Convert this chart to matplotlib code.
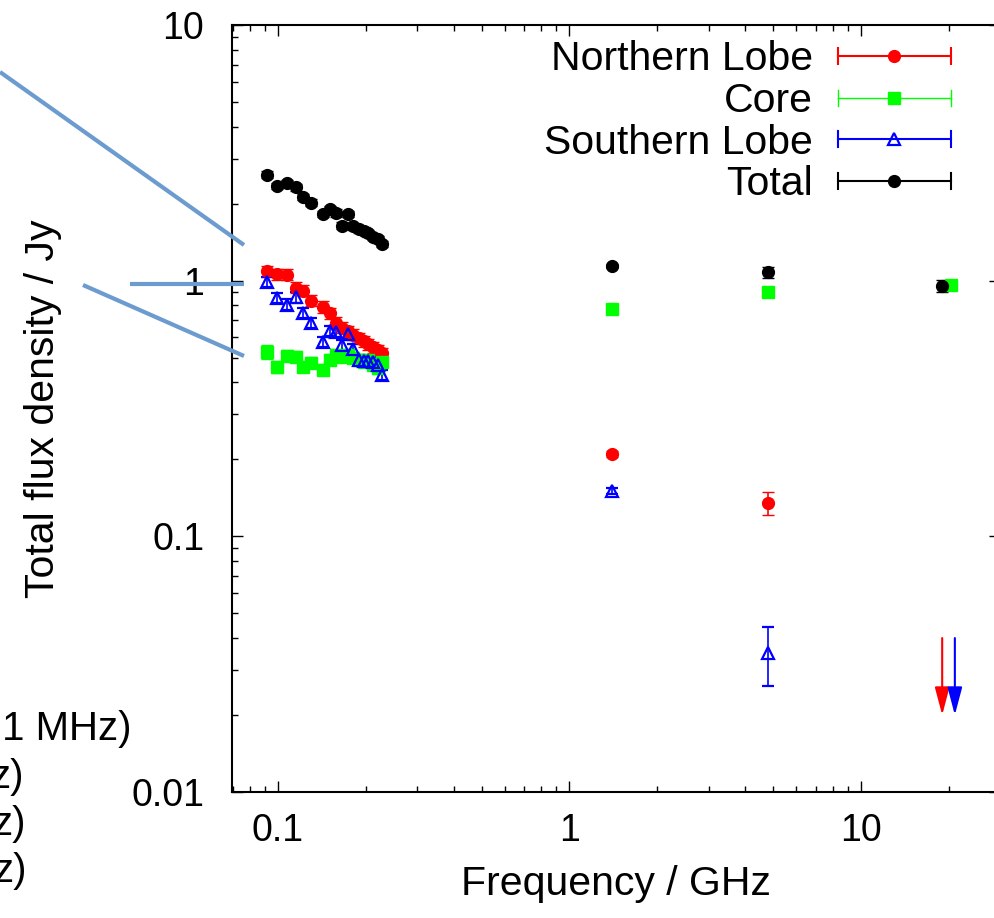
import numpy as np
import matplotlib.pyplot as plt
from matplotlib.lines import Line2D
from matplotlib.legend_handler import HandlerLine2D
from matplotlib.ticker import LogLocator, NullFormatter

plt.rcParams['font.family'] = ['Liberation Sans', 'DejaVu Sans']

# low-frequency sub-bands (GHz)
freq_low = [0.092, 0.099, 0.107, 0.115, 0.122, 0.130, 0.143, 0.151, 0.158,
            0.166, 0.174, 0.181, 0.189, 0.197, 0.204, 0.212, 0.220, 0.227]

north_low = [1.09, 1.06, 1.055, 0.94, 0.915, 0.835, 0.79, 0.745, 0.685,
             0.655, 0.635, 0.615, 0.595, 0.58, 0.565, 0.55, 0.535, 0.52]
north_low_err = [0.055, 0.053, 0.053, 0.047, 0.046, 0.042, 0.040, 0.037, 0.034,
                 0.033, 0.032, 0.031, 0.030, 0.029, 0.028, 0.028, 0.027, 0.026]

core_low = [0.527, 0.461, 0.509, 0.504, 0.461, 0.478, 0.449, 0.491, 0.513,
            0.504, 0.513, 0.50, 0.491, 0.482, 0.491, 0.469, 0.456, 0.482]
core_low_err = [0.035, 0.025, 0.025, 0.025, 0.023, 0.024, 0.022, 0.024, 0.025,
                0.025, 0.025, 0.025, 0.024, 0.024, 0.024, 0.023, 0.023, 0.024]

south_low = [0.99, 0.856, 0.806, 0.86, 0.747, 0.683, 0.575, 0.637, 0.63,
             0.558, 0.618, 0.542, 0.491, 0.486, 0.483, 0.481, 0.469, 0.429]
south_low_err = [0.045, 0.040, 0.038, 0.040, 0.035, 0.032, 0.027, 0.030, 0.030,
                 0.026, 0.029, 0.025, 0.023, 0.023, 0.023, 0.022, 0.022, 0.020]

total_low = [2.60, 2.35, 2.40, 2.32, 2.13, 2.02, 1.82, 1.90, 1.84,
             1.64, 1.82, 1.63, 1.59, 1.57, 1.53, 1.48, 1.45, 1.39]
total_low_err = [0.08, 0.07, 0.07, 0.07, 0.06, 0.06, 0.05, 0.06, 0.06,
                 0.05, 0.05, 0.05, 0.05, 0.05, 0.05, 0.04, 0.04, 0.04]

# higher-frequency points
north_hi_freq = [1.4, 4.8]
north_hi = [0.210, 0.135]
north_hi_err = [0.005, 0.0135]

core_hi_freq = [1.4, 4.8, 20.3]
core_hi = [0.777, 0.906, 0.96]
core_hi_err = [0.015, 0.02, 0.03]

south_hi_freq = [1.4, 4.8]
south_hi = [0.151, 0.035]
south_hi_err = [0.004, 0.009]

total_hi_freq = [1.4, 4.8, 19.0]
total_hi = [1.145, 1.078, 0.955]
total_hi_err = [0.02, 0.055, 0.05]

# upper limits at ~20 GHz
north_ul_freq = [19.0]
north_ul = [0.04]
south_ul_freq = [21.0]
south_ul = [0.04]

series = [
    ('Northern Lobe', 'red', 'o', freq_low + north_hi_freq, north_low + north_hi, north_low_err + north_hi_err),
    ('Core', '#00ff00', 's', freq_low + core_hi_freq, core_low + core_hi, core_low_err + core_hi_err),
    ('Southern Lobe', 'blue', '^', freq_low + south_hi_freq, south_low + south_hi, south_low_err + south_hi_err),
    ('Total', 'black', 'o', freq_low + total_hi_freq, total_low + total_hi, total_low_err + total_hi_err),
]


class CapHandler(HandlerLine2D):
    # gnuplot style key: horizontal bar with end caps
    def create_artists(self, legend, orig_handle, xdescent, ydescent,
                       width, height, fontsize, trans):
        artists = super().create_artists(legend, orig_handle, xdescent, ydescent,
                                         width, height, fontsize, trans)
        y0 = (height - ydescent) / 2
        cap = 0.28 * height
        for xc in (-xdescent, -xdescent + width):
            artists.append(Line2D([xc, xc], [y0 - cap, y0 + cap],
                                  color=orig_handle.get_color(),
                                  lw=orig_handle.get_linewidth(), transform=trans))
        return artists


W, H = 995, 918
fig = plt.figure(figsize=(W / 100, H / 100), dpi=100)
ax = fig.add_axes([232 / W, 126 / H, 768 / W, 767 / H])

handles = []
for name, color, marker, f, s, e in series:
    hollow = marker == '^'
    ax.errorbar(f, s, yerr=e, fmt=marker, color=color, ms=9 if hollow else 8.5,
                mfc='none' if hollow else color, mec=color, mew=1.6 if hollow else 1,
                elinewidth=1.2, capsize=4.5, capthick=1.2, ls='none')
    handles.append(Line2D([], [], color=color, marker=marker, ls='-',
                          lw=1.0 if color == '#00ff00' else 1.5,
                          ms=8 if hollow else 8.5,
                          mfc='none' if hollow else color, mec=color,
                          mew=1.6 if hollow else 1, label=name))

for f, v, c in [(north_ul_freq[0], north_ul[0], 'red'), (south_ul_freq[0], south_ul[0], 'blue')]:
    ax.annotate('', xy=(f, v / 2), xytext=(f, v),
                arrowprops=dict(arrowstyle='-|>,head_length=1.7,head_width=0.45',
                                color=c, lw=1.5, shrinkA=0, shrinkB=0, mutation_scale=10))

ax.set_xscale('log')
ax.set_yscale('log')
ax.set_xlim(0.0695, 30)
ax.set_ylim(0.01, 10)

ax.set_xticks([0.1, 1, 10], ['0.1', '1', '10'])
ax.set_yticks([0.01, 0.1, 1, 10], ['0.01', '0.1', '1', '10'])
for axis in (ax.xaxis, ax.yaxis):
    axis.set_minor_locator(LogLocator(base=10, subs=np.arange(2, 10)))
    axis.set_minor_formatter(NullFormatter())

ax.tick_params(which='both', direction='in', top=True, right=True, width=1.0)
ax.tick_params(which='major', length=8, labelsize=27)
ax.tick_params(which='minor', length=4)
ax.tick_params(axis='x', which='major', pad=15)
ax.tick_params(axis='y', which='major', pad=20)
for sp in ax.spines.values():
    sp.set_linewidth(1.5)

ax.set_xlabel('Frequency / GHz', fontsize=29.5)
ax.set_ylabel('Total flux density / Jy', fontsize=29.5)
ax.xaxis.set_label_coords(0.5, -0.095)
ax.yaxis.set_label_coords(-0.222, 0.5)

ax.legend(handles=handles, loc='upper right', bbox_to_anchor=(0.936, 0.98),
          frameon=False, markerfirst=False, numpoints=1, fontsize=29.5,
          handlelength=2.76, handletextpad=0.6, labelspacing=0.09,
          borderpad=0, borderaxespad=0,
          handler_map={Line2D: CapHandler()})

# callout lines and clipped key text belonging to the neighbouring panel
callouts = [((0, 72), (244, 245)), ((130, 284), (244, 284)), ((83, 285), (244, 356))]
for (x0, y0), (x1, y1) in callouts:
    fig.add_artist(Line2D([x0 / W, x1 / W], [1 - y0 / H, 1 - y1 / H],
                          transform=fig.transFigure, color='#6b9bcf', lw=3,
                          solid_capstyle='butt', zorder=5))

side_text = [('1 MHz)', 132, 740), ('z)', 24, 788), ('z)', 25.5, 835), ('z)', 27, 882)]
for txt, x, y in side_text:
    fig.text(x / W, 1 - y / H, txt, ha='right', va='baseline', fontsize=29)

fig.savefig('out.png', dpi=100)
